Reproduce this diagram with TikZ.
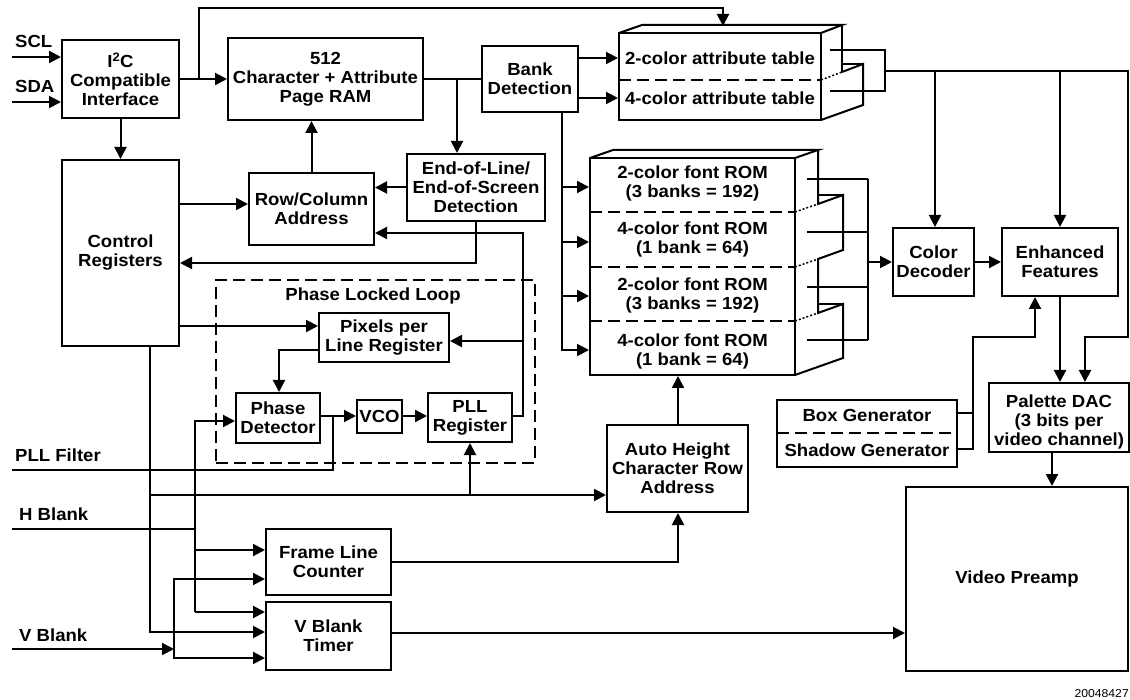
\documentclass[tikz,border=0pt]{standalone}
\usepackage{fontspec}
\setmainfont{Liberation Sans}[FakeStretch=1.06]
\usetikzlibrary{arrows.meta}
\newcommand\dfont{\fontsize{17.5}{19}\selectfont\bfseries}
\begin{document}
\begin{tikzpicture}[x=1pt,y=-1pt,
  box/.style={draw, line width=2pt, align=center, inner sep=0pt, font=\dfont},
  txt/.style={align=center, inner sep=0pt, font=\dfont},
  lbl/.style={anchor=west, inner sep=0pt, font=\dfont},
  ln/.style={line width=2pt},
  arr/.style={line width=2pt, -{Triangle[length=12pt,width=12pt]}},
  dsh/.style={line width=2pt, dash pattern=on 12pt off 6pt},
  dotl/.style={line width=1.5pt, dash pattern=on 2pt off 2pt}]
\useasboundingbox (0,0) rectangle (1130,700);
\fill[white] (0,0) rectangle (1130,700);

% ---------- nodes ----------
\node[box, minimum width=117pt, minimum height=78pt] (i2c) at (120.5,79) {I\textsuperscript{2}C\\Compatible\\Interface};
\node[box, minimum width=195pt, minimum height=82pt] (ram) at (325.5,79) {512\\Character + Attribute\\Page RAM};
\node[box, minimum width=96pt, minimum height=66pt] (bank) at (530,79) {Bank\\Detection};
\node[box, minimum width=202pt, minimum height=87pt] (attr) at (720,76.5) {};
\node[txt] (attrA) at (720,58) {2-color attribute table};
\node[txt] (attrB) at (720,98) {4-color attribute table};
\node[box, minimum width=117pt, minimum height=186pt] (ctrl) at (120.5,253) {Control\\Registers};
\node[box, minimum width=125pt, minimum height=72pt] (rowcol) at (311.5,209) {Row/Column\\Address};
\node[box, minimum width=138pt, minimum height=67pt] (eol) at (476,187.5) {End-of-Line/\\End-of-Screen\\Detection};
\node[box, minimum width=205pt, minimum height=217pt] (rom) at (692.5,266.5) {};
\node[txt] (romA) at (692.5,183) {2-color font ROM\\(3 banks = 192)};
\node[txt] (romB) at (692.5,239) {4-color font ROM\\(1 bank = 64)};
\node[txt] (romC) at (692.5,295) {2-color font ROM\\(3 banks = 192)};
\node[txt] (romD) at (692.5,351) {4-color font ROM\\(1 bank = 64)};
\node[draw, dsh, minimum width=319pt, minimum height=183pt, inner sep=0pt] (pllbox) at (375.5,371.5) {};
\node[txt] (plltitle) at (373,296) {Phase Locked Loop};
\node[box, minimum width=130pt, minimum height=49pt] (pix) at (384,337.5) {Pixels per\\Line Register};
\node[box, minimum width=84pt, minimum height=50pt] (phd) at (278,418) {Phase\\Detector};
\node[box, minimum width=45pt, minimum height=33pt] (vco) at (379.5,416.5) {VCO};
\node[box, minimum width=84pt, minimum height=49pt] (pllr) at (470,417.5) {PLL\\Register};
\node[box, minimum width=141pt, minimum height=87pt] (auto) at (677.5,468.5) {Auto Height\\Character Row\\Address};
\node[box, minimum width=125pt, minimum height=66pt] (flc) at (328.5,562) {Frame Line\\Counter};
\node[box, minimum width=125pt, minimum height=68pt] (vbt) at (328.5,636) {V Blank\\Timer};
\node[box, minimum width=81pt, minimum height=68pt] (cdec) at (933.5,262) {Color\\Decoder};
\node[box, minimum width=116pt, minimum height=68pt] (enh) at (1060,262) {Enhanced\\Features};
\node[box, minimum width=180pt, minimum height=67pt] (boxgen) at (867,433.5) {};
\node[txt] (boxA) at (867,415) {Box Generator};
\node[txt] (boxB) at (867,450) {Shadow Generator};
\node[box, minimum width=140pt, minimum height=69pt] (pal) at (1059,417.5) {};
\node[txt] (palT) at (1059,422) {Palette DAC\\(3 bits per\\video channel)};
\node[box, minimum width=222pt, minimum height=184pt] (vpre) at (1017,579) {Video Preamp};

% labels
\node[lbl] (sclL) at (15,41) {SCL};
\node[lbl] (sdaL) at (15,86) {SDA};
\node[lbl] (pllfL) at (15,455) {PLL Filter};
\node[lbl] (hbL) at (19,514) {H Blank};
\node[lbl] (vbL) at (19,635) {V Blank};
\node[anchor=east, inner sep=0pt, font=\fontsize{11.5}{12}\selectfont] (fig) at (1129,694) {20048427};

% ---------- 3D faces ----------
\draw[ln, line join=miter] (619,33) -- (642,25) -- (842,25) -- (821,33);
\draw[ln] (842,25) -- (842,72);
\draw[dotl] (821,80) -- (842,72);
\draw[ln] (842,72) -- (863,64) -- (863,105) -- (821,120);
\draw[ln] (842,64) -- (863,64);
\draw[dsh] (619,80) -- (821,80);

\draw[ln] (590,158) -- (613,150) -- (818,150) -- (795,158);
\draw[ln] (818,150) -- (818,204) -- (843,195) -- (843,250) -- (818,259) -- (818,313) -- (843,304) -- (843,358) -- (795,375);
\draw[ln] (818,195) -- (843,195);
\draw[ln] (818,304) -- (843,304);
\draw[dotl] (795,212) -- (818,204);
\draw[dotl] (795,267) -- (818,259);
\draw[dotl] (795,321) -- (818,313);
\foreach \y in {212,267,321} \draw[dsh] (590,\y) -- (795,\y);
\draw[dsh] (777,433) -- (957,433);

% ---------- connectors ----------
\coordinate (scl) at (12,57);
\coordinate (sda) at (12,102);
\draw[arr] (scl) -- (scl -| i2c.west);
\draw[arr] (sda) -- (sda -| i2c.west);
\draw[arr] (i2c.east) -- (ram.west);
\coordinate (j1) at (199,79);
\coordinate (attrtop) at (723,26);
\draw[arr] (j1) -- (199,8) -- (723,8) -- (attrtop);
\draw[arr] (i2c.south) -- (ctrl.north);
\draw[ln] (ram.east) -- (bank.west);
\draw[arr] (457,79) -- (eol.north -| 457,0);
\draw[arr] (bank.east |- 0,58) -- (attr.west |- 0,58);
\draw[arr] (bank.east |- 0,98) -- (attr.west |- 0,98);
\draw[arr] (bank.south -| 562,0) -- (562,350) -- (rom.west |- 0,350);
\foreach \y in {187,242,296} \draw[arr] (562,\y) -- (rom.west |- 0,\y);
\draw[arr] (rowcol.north) -- (rowcol.north |- ram.south);
\draw[arr] (ctrl.east |- 0,204) -- (rowcol.west |- 0,204);
\draw[arr] (eol.west) -- (eol.west -| rowcol.east);
\draw[arr] (eol.south) -- (eol.south |- 0,263) -- (ctrl.east |- 0,263);
\draw[arr] (pllr.east |- 0,416) -- (523,416) -- (523,233) -- (rowcol.east |- 0,233);
\draw[arr] (523,341) -- (pix.east |- 0,341);
\draw[arr] (ctrl.east |- 0,326) -- (pix.west |- 0,326);
\draw[arr] (pix.west |- 0,350) -- (279,350) -- (279,0 |- phd.north);
\draw[arr] (phd.east |- 0,416) -- (vco.west |- 0,416);
\draw[arr] (vco.east |- 0,416) -- (pllr.west |- 0,416);
\coordinate (pllf) at (12,470);
\draw[ln] (pllf) -- (333,470) -- (333,416);
\draw[arr] (ctrl.south -| 150,0) -- (150,632) -- (vbt.west |- 0,632);
\draw[arr] (150,495) -- (auto.west |- 0,495);
\draw[arr] (470,495) -- (pllr.south);
\coordinate (hb) at (12,529);
\draw[ln] (hb) -- (195,529);
\draw[arr] (195,612) -- (195,421) -- (phd.west |- 0,421);
\draw[arr] (195,612) -- (vbt.west |- 0,612);
\draw[arr] (195,550) -- (flc.west |- 0,550);
\coordinate (vb) at (12,649);
\draw[arr] (vb) -- (174,649);
\draw[arr] (174,649) -- (174,579) -- (flc.west |- 0,579);
\draw[arr] (174,649) -- (174,658) -- (vbt.west |- 0,658);
\draw[arr] (flc.east) -- (678,562) -- (auto.south -| 678,0);
\draw[arr] (auto.north -| 678,0) -- (rom.south -| 678,0);
\draw[arr] (vbt.east |- 0,633) -- (vpre.west |- 0,633);
\foreach \y in {179,232,287,340} \draw[ln] (807,\y) -- (868,\y);
\draw[ln] (868,179) -- (868,340);
\draw[arr] (868,262) -- (cdec.west);
\draw[ln] (830,50) -- (885,50) -- (885,91) -- (830,91);
\draw[arr] (885,71) -- (1128,71) -- (1128,337) -- (1085,337) -- (1085,0 |- pal.north);
\draw[arr] (935,71) -- (935,0 |- cdec.north);
\draw[arr] (1060,71) -- (enh.north);
\draw[arr] (cdec.east) -- (enh.west);
\draw[arr] (enh.south) -- (enh.south |- pal.north);
\draw[arr] (boxgen.east |- 0,449) -- (973,449) -- (973,337) -- (1035,337) -- (1035,0 |- enh.south);
\draw[ln] (boxgen.east |- 0,413) -- (973,413);
\draw[arr] (1052,0 |- pal.south) -- (1052,0 |- vpre.north);
\end{tikzpicture}
\end{document}
